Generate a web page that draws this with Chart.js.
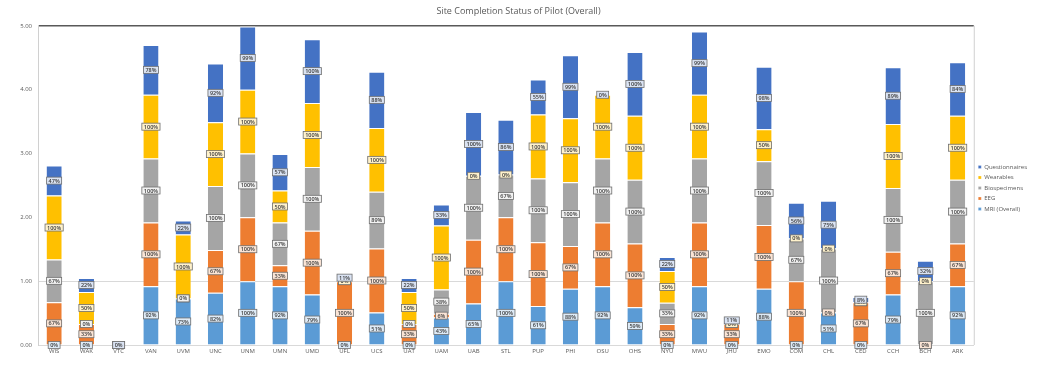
<!DOCTYPE html>
<html>
<head>
<meta charset="utf-8">
<title>Site Completion Status of Pilot (Overall)</title>
<script src="https://cdn.jsdelivr.net/npm/chart.js@4.4.1/dist/chart.umd.min.js"></script>
<style>
    html, body { margin: 0; padding: 0; background: #fff; }
    #chartWrap { width: 1037px; height: 376px; }
</style>
</head>
<body>
<div id="chartWrap"><canvas id="siteChart" width="1037" height="376"></canvas></div>
<script>
const sites = ['WIS', 'WAK', 'VTC', 'VAN', 'UVM', 'UNC', 'UNM', 'UMN', 'UMD', 'UFL', 'UCS', 'UAT', 'UAM', 'UAB', 'STL',
    'PUP', 'PHI', 'OSU', 'OHS', 'NYU', 'MWU', 'JHU', 'EMO', 'COM', 'CHL', 'CED', 'CCH', 'BCH', 'ARK'];

// completion fraction per site, one array per data stream
const mriOverall     = [0, 0, 0, 0.92, 0.73, 0.82, 1, 0.92, 0.79, 0, 0.51, 0, 0.43, 0.65, 1,
    0.61, 0.88, 0.92, 0.59, 0, 0.92, 0, 0.88, 0, 0.51, 0, 0.79, 0, 0.92];
const eeg            = [0.67, 0.33, 0, 1, 0, 0.67, 1, 0.33, 1, 1, 1, 0.33, 0.06, 1, 1,
    1, 0.67, 1, 1, 0.33, 1, 0.33, 1, 1, 0, 0.67, 0.67, 0, 0.67];
const biospecimens   = [0.67, 0, 0, 1, 0, 1, 1, 0.67, 1, 0, 0.89, 0, 0.38, 1, 0.67,
    1, 1, 1, 1, 0.33, 1, 0, 1, 0.67, 1, 0, 1, 1, 1];
const wearables      = [1, 0.5, 0, 1, 1, 1, 1, 0.5, 1, 0, 1, 0.5, 1, 0, 0,
    1, 1, 1, 1, 0.5, 1, 0, 0.5, 0, 0, 0, 1, 0, 1];
const questionnaires = [0.47, 0.22, 0, 0.78, 0.22, 0.92, 0.99, 0.57, 1, 0.11, 0.88, 0.22, 0.33, 1, 0.86,
    0.55, 0.99, 0, 1, 0.22, 0.99, 0.11, 0.98, 0.56, 0.75, 0.08, 0.89, 0.32, 0.84];

const yTicks = [0, 1, 2, 3, 4, 5];

const FONT = '"Open Sans", "Liberation Sans", sans-serif';

// percentage tag in the middle of every segment
const segmentLabels = {
    id: 'segmentLabels',
    afterDatasetsDraw(chart) {
        const ctx = chart.ctx;
        ctx.save();
        ctx.font = '600 5.5px ' + FONT;
        ctx.textAlign = 'center';
        ctx.textBaseline = 'middle';
        chart.data.datasets.forEach((ds, i) => {
            const meta = chart.getDatasetMeta(i);
            meta.data.forEach((bar, j) => {
                const text = Math.round(ds.data[j] * 100) + '%';
                const y = (bar.y + bar.base) / 2;
                const w = ctx.measureText(text).width + 4;
                const h = 7;
                ctx.fillStyle = ds.labelFill;
                ctx.fillRect(bar.x - w / 2, y - h / 2, w, h);
                ctx.strokeStyle = '#6f6f6f';
                ctx.lineWidth = 0.8;
                ctx.strokeRect(bar.x - w / 2, y - h / 2, w, h);
                ctx.fillStyle = '#3a3a3a';
                ctx.fillText(text, bar.x, y + 0.5);
            });
        });
        ctx.restore();
    }
};

// thin line on the right edge of the plot area
const plotFrame = {
    id: 'plotFrame',
    beforeDatasetsDraw(chart) {
        const { ctx, chartArea } = chart;
        ctx.save();
        ctx.strokeStyle = '#d0d0d0';
        ctx.lineWidth = 1;
        ctx.beginPath();
        ctx.moveTo(chartArea.right + 0.5, chartArea.top);
        ctx.lineTo(chartArea.right + 0.5, chartArea.bottom);
        ctx.stroke();
        ctx.restore();
    }
};

const makeSet = (label, data, color, labelFill) => ({
    label: label,
    data: data,
    backgroundColor: color,
    borderColor: '#ffffff',
    borderWidth: { top: 1 },
    borderSkipped: false,
    labelFill: labelFill,
    barPercentage: 0.47,
    categoryPercentage: 1
});

new Chart(document.getElementById('siteChart'), {
    type: 'bar',
    data: {
        labels: sites,
        datasets: [
            makeSet('MRI (Overall)', mriOverall, '#5b9bd5', '#deebf7'),
            makeSet('EEG', eeg, '#ed7d31', '#fbe5d6'),
            makeSet('Biospecimens', biospecimens, '#a5a5a5', '#f2f2f2'),
            makeSet('Wearables', wearables, '#ffc000', '#fff2cc'),
            makeSet('Questionnaires', questionnaires, '#4472c4', '#dae3f3')
        ]
    },
    options: {
        responsive: false,
        animation: false,
        layout: { padding: { left: 0, right: 0, top: 0, bottom: 0 } },
        plugins: {
            title: {
                display: true,
                text: 'Site Completion Status of Pilot (Overall)',
                color: '#595959',
                font: { family: FONT, size: 9, weight: 'normal' },
                padding: { top: 6, bottom: 9 }
            },
            legend: {
                position: 'right',
                reverse: true,
                labels: {
                    boxWidth: 3,
                    boxHeight: 3,
                    padding: 4.5,
                    color: '#595959',
                    font: { family: FONT, size: 6 }
                }
            },
            tooltip: { enabled: false }
        },
        scales: {
            x: {
                stacked: true,
                grid: { display: false, drawTicks: false },
                border: { color: '#d9d9d9' },
                ticks: { color: '#595959', font: { family: FONT, size: 6 }, padding: 3, maxRotation: 0, autoSkip: false },
                afterFit(scale) { scale.height = 31; }
            },
            y: {
                stacked: true,
                min: yTicks[0],
                max: yTicks[yTicks.length - 1],
                afterBuildTicks(scale) { scale.ticks = yTicks.map(v => ({ value: v })); },
                grid: {
                    drawTicks: false,
                    color: ctx => ctx.tick.value === 1 ? '#d9d9d9' : (ctx.tick.value === 5 ? '#595959' : 'rgba(0,0,0,0)'),
                    lineWidth: ctx => ctx.tick.value === 5 ? 1.5 : 1
                },
                border: { color: '#d0d0d0' },
                ticks: {
                    color: '#595959',
                    font: { family: FONT, size: 6 },
                    padding: 6,
                    callback: v => Number(v).toFixed(2)
                },
                afterFit(scale) { scale.width = 38; }
            }
        }
    },
    plugins: [segmentLabels, plotFrame]
});
</script>
</body>
</html>
